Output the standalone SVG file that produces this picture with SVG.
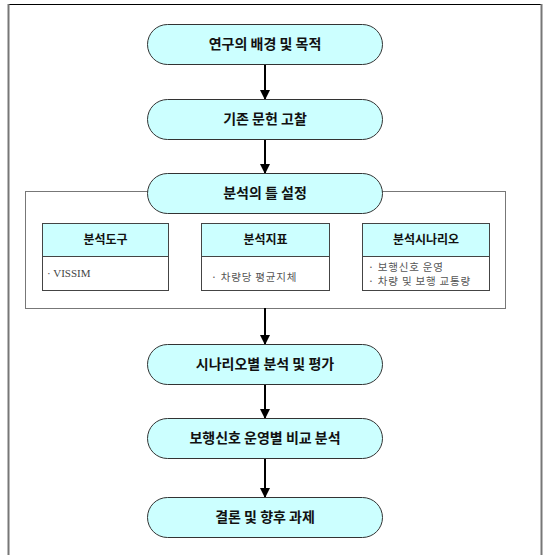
<svg xmlns="http://www.w3.org/2000/svg" width="544" height="555" viewBox="0 0 544 555">
<style>
.pill{fill:#ccffff;stroke:#333;stroke-width:1}
.t{font-family:"Noto Sans CJK KR","Liberation Sans",sans-serif;font-weight:bold;font-size:14px;fill:#111;text-anchor:middle}
.h{font-family:"Noto Sans CJK KR","Liberation Sans",sans-serif;font-weight:bold;font-size:12px;fill:#111;text-anchor:middle}
.b{font-family:"Liberation Serif","Noto Sans CJK KR",serif;font-size:11px;fill:#444}
.bk{font-family:"Noto Sans CJK KR","Liberation Sans",sans-serif;font-size:10.5px;fill:#555;letter-spacing:0.8px}
.hd{fill:#ccffff;stroke:#444;stroke-width:1}
.bd{fill:#fff;stroke:#444;stroke-width:1}
.con{stroke:#000;stroke-width:2;fill:none;marker-end:url(#ah)}
</style>
<defs>
<marker id="ah" markerWidth="10" markerHeight="10" refX="9" refY="5" orient="auto" markerUnits="userSpaceOnUse" viewBox="0 0 10 10">
<path d="M0,0 L10,5 L0,10 Z" fill="#000"/>
</marker>
</defs>
<rect width="544" height="555" fill="#fff"/>
<g id="frame">
<line x1="8" y1="4.5" x2="542" y2="4.5" stroke="#000" stroke-width="1"/>
<line x1="8.5" y1="4" x2="8.5" y2="555" stroke="#777" stroke-width="2"/>
<line x1="541.5" y1="4" x2="541.5" y2="555" stroke="#777" stroke-width="2"/>
</g>
<g id="group-frame">
<rect x="25.5" y="191.5" width="480" height="117" fill="#fff" stroke="#777" stroke-width="1"/>
</g>
<g id="connectors">
<line class="con" x1="265" y1="64" x2="265" y2="99"/>
<line class="con" x1="265" y1="139" x2="265" y2="173"/>
<line class="con" x1="265" y1="308" x2="265" y2="344"/>
<line class="con" x1="265" y1="385" x2="265" y2="418"/>
<line class="con" x1="265" y1="459" x2="265" y2="497"/>
</g>
<g id="n1"><rect class="pill" x="147.5" y="24.5" width="235" height="40" rx="20"/><text class="t" x="265" y="49">연구의 배경 및 목적</text></g>
<g id="n2"><rect class="pill" x="147.5" y="99.5" width="235" height="40" rx="20"/><text class="t" x="265" y="124">기존 문헌 고찰</text></g>
<g id="n3"><rect class="pill" x="147.5" y="173.5" width="235" height="40" rx="20"/><text class="t" x="265" y="198">분석의 틀 설정</text></g>
<g id="tool">
<rect class="hd" x="42.5" y="223.5" width="126" height="33"/>
<rect class="bd" x="42.5" y="256.5" width="126" height="34"/>
<text class="h" x="105.5" y="244">분석도구</text>
<text class="b" x="47" y="277">· VISSIM</text>
</g>
<g id="index">
<rect class="hd" x="201.5" y="223.5" width="128" height="33"/>
<rect class="bd" x="201.5" y="256.5" width="128" height="34"/>
<text class="h" x="265.5" y="244">분석지표</text>
<text class="bk" x="211" y="281">· 차량당 평균지체</text>
</g>
<g id="scenario">
<rect class="hd" x="362.5" y="223.5" width="127" height="33"/>
<rect class="bd" x="362.5" y="256.5" width="127" height="34"/>
<text class="h" x="426" y="244">분석시나리오</text>
<text class="bk" x="368" y="271">· 보행신호 운영</text>
<text class="bk" x="368" y="285">· 차량 및 보행 교통량</text>
</g>
<g id="n4"><rect class="pill" x="147.5" y="344.5" width="235" height="40" rx="20"/><text class="t" x="265" y="369">시나리오별 분석 및 평가</text></g>
<g id="n5"><rect class="pill" x="147.5" y="418.5" width="235" height="40" rx="20"/><text class="t" x="265" y="443">보행신호 운영별 비교 분석</text></g>
<g id="n6"><rect class="pill" x="147.5" y="497.5" width="235" height="40" rx="20"/><text class="t" x="265" y="522">결론 및 향후 과제</text></g>
</svg>
